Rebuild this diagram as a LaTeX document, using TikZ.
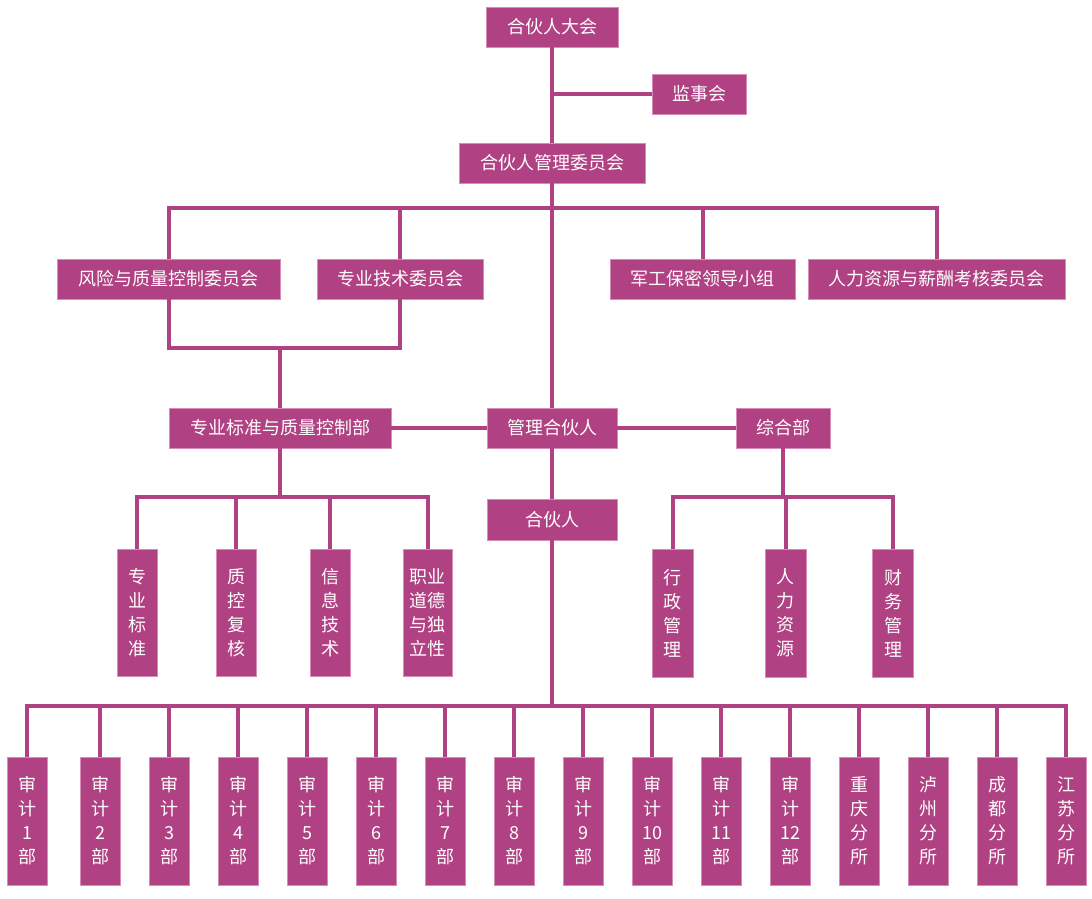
\documentclass[tikz,border=0pt]{standalone}
\usepackage{fontspec}
\setmainfont{Noto Sans CJK SC}
\definecolor{mag}{RGB}{176,65,130}
\definecolor{magedge}{RGB}{214,140,182}
\tikzset{
  box/.style={fill=mag, draw=magedge, line width=0.7pt, text=white, inner sep=0pt,
    font=\fontsize{18}{24}\selectfont, align=center, minimum height=40},
  vbox/.style={box, minimum width=40, minimum height=128},
  link/.style={draw=mag, line width=4pt},
}
\begin{document}
\begin{tikzpicture}[x=1pt, y=-1pt]
\useasboundingbox (0,0) rectangle (1092,899);
\coordinate (bus1) at (552,208);
\coordinate (join) at (280,348);
\coordinate (qcbus) at (280,497);
\coordinate (genbus) at (783,497);
\coordinate (bbus) at (552,706);

% nodes
\node[box, minimum width=132] (top) at (552,27) {合伙人大会};
\node[box, minimum width=94] (sup) at (699,94) {监事会};
\node[box, minimum width=186] (mc) at (552,163) {合伙人管理委员会};
\node[box, minimum width=223] (risk) at (168.5,279) {风险与质量控制委员会};
\node[box, minimum width=166] (tech) at (400,279) {专业技术委员会};
\node[box, minimum width=185] (mil) at (702.5,279) {军工保密领导小组};
\node[box, minimum width=257] (hr) at (936.5,279) {人力资源与薪酬考核委员会};
\node[box, minimum width=222] (qc) at (280,428) {专业标准与质量控制部};
\node[box, minimum width=130] (mp) at (552,428) {管理合伙人};
\node[box, minimum width=94] (gen) at (783,428) {综合部};
\node[box, minimum width=130, minimum height=41] (partner) at (552,519.5) {合伙人};

\node[box, minimum width=40, minimum height=127] (s1) at (137,612.5) {专\\业\\标\\准};
\node[box, minimum width=40, minimum height=127] (s2) at (236,612.5) {质\\控\\复\\核};
\node[box, minimum width=40, minimum height=127] (s3) at (330,612.5) {信\\息\\技\\术};
\node[box, minimum width=49, minimum height=127] (s4) at (427.5,612.5) {职业\\道德\\与独\\立性};
\node[box, minimum width=41, minimum height=128] (g1) at (672.5,613) {行\\政\\管\\理};
\node[box, minimum width=41, minimum height=128] (g2) at (785.5,613) {人\\力\\资\\源};
\node[box, minimum width=41, minimum height=128] (g3) at (893,613) {财\\务\\管\\理};

\node[vbox] (b1) at (27,821) {审\\计\\1\\部};
\node[vbox] (b2) at (100,821) {审\\计\\2\\部};
\node[vbox] (b3) at (169,821) {审\\计\\3\\部};
\node[vbox] (b4) at (238,821) {审\\计\\4\\部};
\node[vbox] (b5) at (307,821) {审\\计\\5\\部};
\node[vbox] (b6) at (376,821) {审\\计\\6\\部};
\node[vbox] (b7) at (445,821) {审\\计\\7\\部};
\node[vbox] (b8) at (514,821) {审\\计\\8\\部};
\node[vbox] (b9) at (583,821) {审\\计\\9\\部};
\node[vbox] (b10) at (652,821) {审\\计\\10\\部};
\node[vbox] (b11) at (721,821) {审\\计\\11\\部};
\node[vbox] (b12) at (790,821) {审\\计\\12\\部};
\node[vbox] (b13) at (859,821) {重\\庆\\分\\所};
\node[vbox] (b14) at (928,821) {泸\\州\\分\\所};
\node[vbox] (b15) at (997,821) {成\\都\\分\\所};
\node[vbox] (b16) at (1066,821) {江\\苏\\分\\所};

% connectors
\path[link] (top.south) -- (mc.north);
\path[link] (sup.west) -- (sup.west -| top.south);
\path[link] (mc.south) -- (mp.north);
\path[link] (risk.north) |- (bus1) -| (hr.north);
\path[link] (tech.north) -- (tech.north |- bus1);
\path[link] (mil.north) -- (mil.north |- bus1);
\path[link] (risk.south) |- (join) -| (tech.south);
\path[link] (join) -- (qc.north);
\path[link] (qc.east) -- (mp.west);
\path[link] (mp.east) -- (gen.west);
\path[link] (mp.south) -- (partner.north);
\path[link] (qc.south) -- (qcbus);
\path[link] (s1.north) |- (qcbus) -| (s4.north);
\path[link] (s2.north) -- (s2.north |- qcbus);
\path[link] (s3.north) -- (s3.north |- qcbus);
\path[link] (gen.south) -- (genbus);
\path[link] (g1.north) |- (genbus) -| (g3.north);
\path[link] (g2.north) -- (g2.north |- genbus);
\path[link] (partner.south) -- (bbus);
\path[link] (b1.north) |- (bbus) -| (b16.north);
\foreach \i in {2,...,15} {
  \path[link] (b\i.north) -- (b\i.north |- bbus);
}
\end{tikzpicture}
\end{document}
